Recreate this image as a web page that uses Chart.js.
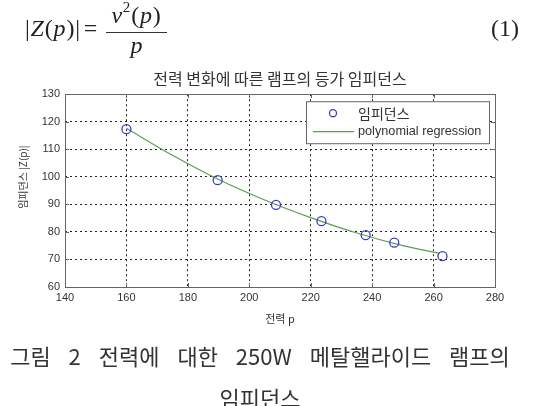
<!DOCTYPE html>
<html>
<head>
<meta charset="utf-8">
<script src="https://cdn.jsdelivr.net/npm/chart.js@4"></script>
<style>
  html, body { margin: 0; padding: 0; background: #fff; }
  #wrap { position: relative; width: 545px; height: 406px; overflow: hidden; }
  #chart { position: absolute; left: 0; top: 0; }
  .eq { position: absolute; font-family: "Liberation Serif", "DejaVu Serif", serif; font-size: 24px; line-height: 24px; color: #222; white-space: nowrap; }
  .eq i { font-style: italic; }
  .eq sup { font-size: 15px; position: relative; top: -2px; line-height: 0; }
  .caption { position: absolute; left: 0; width: 520px; font-family: "Noto Sans CJK KR", sans-serif; font-size: 22px; color: #333; text-align: center; white-space: nowrap; }
</style>
</head>
<body>
<div id="wrap">
  <canvas id="chart" width="545" height="406"></canvas>
  <div class="eq" style="left:25px; top:16px; letter-spacing:0.8px;">|<i>Z</i>(<i>p</i>)|<span style="margin-left:3px;">=</span></div>
  <div class="eq" style="left:106px; top:3px; width:61px; text-align:center; letter-spacing:0.8px;"><i>v</i><sup>2</sup>(<i>p</i>)</div>
  <div style="position:absolute; left:106px; top:32px; width:61px; height:1px; background:#333;"></div>
  <div class="eq" style="left:106px; top:33px; width:61px; text-align:center;"><i>p</i></div>
  <div class="eq" style="left:491px; top:16px;">(1)</div>
  <div class="caption" style="top:339px; word-spacing:13px;">그림 2 전력에 대한 250W 메탈핼라이드 램프의</div>
  <div class="caption" style="top:381px;">임피던스</div>
</div>
<script>
// measured points
const powerW = [160, 189.7, 208.7, 223.5, 237.9, 247.2, 262.9];
const impedance = [117.3, 98.8, 89.8, 83.9, 78.8, 76.1, 71.2];

// fitted curve
const fitPower = [160, 175, 190, 205, 220, 235, 250, 262];
const fitImpedance = [117.6, 107.8, 99.0, 91.6, 85.2, 79.6, 75.0, 72.2];

const xTicks = [140, 160, 180, 200, 220, 240, 260, 280];
const yTicks = [60, 70, 80, 90, 100, 110, 120, 130];

const legendLabels = ["임피던스", "polynomial regression"];

const pointColor = "#3b3bc4";
const lineColor = "#5a9e52";

const toXY = (xs, ys) => xs.map((x, i) => ({ x: x, y: ys[i] }));

// matlab style box with inward ticks
const boxPlugin = {
  id: "box",
  afterDatasetsDraw(chart) {
    const { ctx, chartArea: a, scales } = chart;
    ctx.save();
    ctx.strokeStyle = "#666";
    ctx.lineWidth = 1;
    ctx.strokeRect(Math.round(a.left) + 0.5, Math.round(a.top) + 0.5, Math.round(a.right - a.left), Math.round(a.bottom - a.top));
    ctx.beginPath();
    xTicks.forEach(t => {
      const px = Math.round(scales.x.getPixelForValue(t)) + 0.5;
      ctx.moveTo(px, a.bottom); ctx.lineTo(px, a.bottom - 4);
      ctx.moveTo(px, a.top); ctx.lineTo(px, a.top + 4);
    });
    yTicks.forEach(t => {
      const py = Math.round(scales.y.getPixelForValue(t)) + 0.5;
      ctx.moveTo(a.left, py); ctx.lineTo(a.left + 4, py);
      ctx.moveTo(a.right, py); ctx.lineTo(a.right - 4, py);
    });
    ctx.stroke();
    ctx.restore();
  }
};

// legend box inside the plot, top right
const boxLegend = {
  id: "boxLegend",
  afterDraw(chart) {
    const ctx = chart.ctx;
    const a = chart.chartArea;
    const x0 = a.right - 189, y0 = a.top + 7, w = 183, h = 42;
    ctx.save();
    ctx.fillStyle = "#fff";
    ctx.fillRect(x0, y0, w, h);
    ctx.strokeStyle = "#666";
    ctx.lineWidth = 1;
    ctx.strokeRect(x0 + 0.5, y0 + 0.5, w, h);

    ctx.strokeStyle = pointColor;
    ctx.lineWidth = 1.3;
    ctx.beginPath();
    ctx.arc(x0 + 27, y0 + 12, 3.5, 0, Math.PI * 2);
    ctx.stroke();

    ctx.strokeStyle = lineColor;
    ctx.lineWidth = 1.2;
    ctx.beginPath();
    ctx.moveTo(x0 + 7, y0 + 30.5);
    ctx.lineTo(x0 + 48, y0 + 30.5);
    ctx.stroke();

    ctx.fillStyle = "#333";
    ctx.textBaseline = "middle";
    ctx.font = '14px "Noto Sans CJK KR"';
    ctx.fillText(legendLabels[0], x0 + 52, y0 + 12);
    ctx.font = '12.7px "Liberation Sans"';
    ctx.fillText(legendLabels[1], x0 + 52, y0 + 30);
    ctx.restore();
  }
};

new Chart(document.getElementById("chart").getContext("2d"), {
  type: "scatter",
  data: {
    datasets: [{
      label: legendLabels[0],
      data: toXY(powerW, impedance),
      showLine: false,
      pointStyle: "circle",
      pointRadius: 4.5,
      pointBorderWidth: 1.3,
      pointBorderColor: pointColor,
      pointBackgroundColor: "rgba(0,0,0,0)",
      order: 1
    }, {
      label: legendLabels[1],
      data: toXY(fitPower, fitImpedance),
      showLine: true,
      borderColor: lineColor,
      borderWidth: 1.2,
      pointRadius: 0,
      cubicInterpolationMode: "monotone",
      order: 2
    }]
  },
  options: {
    responsive: false,
    animation: false,
    layout: { padding: { top: 69, right: 50, bottom: 81, left: 17 } },
    plugins: {
      legend: { display: false },
      tooltip: { enabled: false },
      title: {
        display: true,
        fullSize: false,
        text: "전력 변화에 따른 램프의 등가 임피던스",
        color: "#333",
        font: { family: "Noto Sans CJK KR", size: 16, weight: "normal" },
        padding: { top: 0, bottom: 6 }
      }
    },
    scales: {
      x: {
        type: "linear",
        min: 140, max: 280,
        afterBuildTicks: s => { s.ticks = xTicks.map(v => ({ value: v })); },
        afterFit: s => { s.height = 38; },
        grid: { color: "#222", drawTicks: false, lineWidth: 1 },
        border: { display: false, dash: [2, 3] },
        ticks: { color: "#333", padding: 4, font: { family: "Liberation Sans", size: 11 }, maxRotation: 0 },
        title: { display: true, text: "전력 p", color: "#333", padding: { top: 2, bottom: 0 }, font: { family: "Noto Sans CJK KR", size: 11 } }
      },
      y: {
        min: 60, max: 130,
        afterBuildTicks: s => { s.ticks = yTicks.map(v => ({ value: v })); },
        afterFit: s => { s.width = 48; },
        grid: { color: "#222", drawTicks: false, lineWidth: 1 },
        border: { display: false, dash: [2, 3] },
        ticks: { color: "#333", padding: 5, font: { family: "Liberation Sans", size: 11 } },
        // leading spaces push the label up a little, as in the source figure
        title: { display: true, text: "\u00a0\u00a0\u00a0\u00a0\u00a0\u00a0\u00a0\u00a0\u00a0\u00a0\u00a0\u00a0임피던스 |Z(p)|", color: "#333", padding: { top: 0, bottom: 4 }, font: { family: "Noto Sans CJK KR", size: 10 } }
      }
    }
  },
  plugins: [boxPlugin, boxLegend]
});
</script>
</body>
</html>
